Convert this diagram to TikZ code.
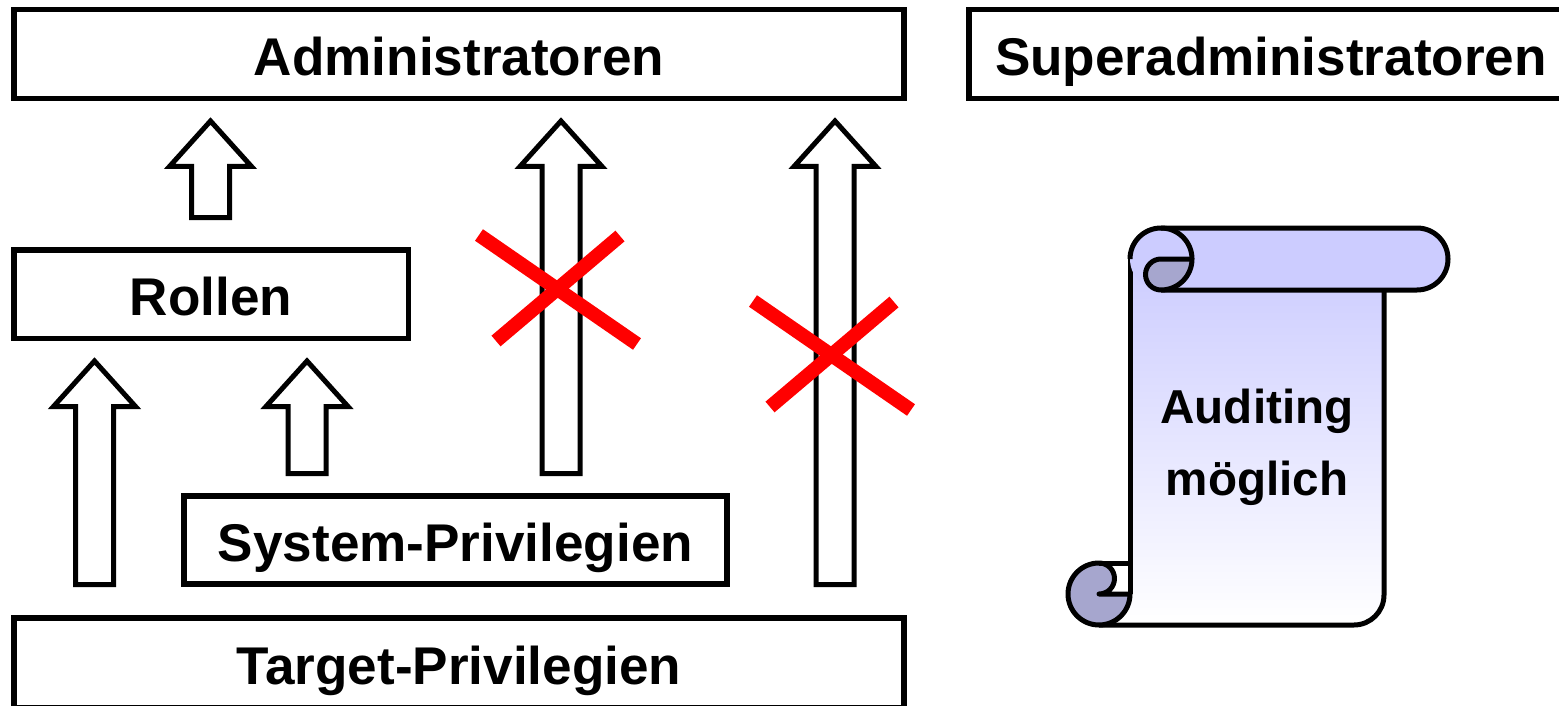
\documentclass[tikz,border=0pt]{standalone}
\usepackage{fontspec}
\setmainfont{Liberation Sans}
\definecolor{scrolllight}{RGB}{204,204,255}
\definecolor{scrolldark}{RGB}{166,166,206}

\tikzset{
  box/.style={draw, line width=2.75pt, inner sep=0pt,
    font=\fontsize{26.55}{30}\selectfont\bfseries,
    text height=21.25pt, text depth=0pt},
  blockarrow/.style={draw, line width=2.5pt, fill=white},
  cross/.style={color=red, line width=7pt},
  scroll/.style={line width=2.5pt, line join=round},
  scrolltext/.style={align=center, inner sep=0pt,
    font=\fontsize{23.8}{36}\selectfont\bfseries}
}

% block arrow pointing up: x, bottom, tip
\newcommand{\blockup}[3]{%
  \draw[blockarrow] ({#1-19},#2) -- ({#1-19},{#3+45.5}) -- ({#1-41},{#3+45.5})
    -- (#1,#3) -- ({#1+41},{#3+45.5}) -- ({#1+19},{#3+45.5}) -- ({#1+19},#2) -- cycle;
}
% red cross over an arrow
\newcommand{\crossout}[2]{%
  \draw[cross] ({#1-79},{#2-54}) -- ({#1+79},{#2+55});
  \draw[cross] ({#1-62},{#2+52}) -- ({#1+62},{#2-53});
}

\begin{document}
\begin{tikzpicture}[x=0.5pt, y=-0.5pt]
   \useasboundingbox (0,0) rectangle (1559,706);
   \clip (0,0) rectangle (1559,706);

   \node[box, minimum width=445pt, minimum height=44.5pt] (admin) at (459,54) {Administratoren};
   \node[box, minimum width=302pt, minimum height=44.5pt] (superadmin) at (1271,54) {Superadministratoren};
   \node[box, minimum width=197.25pt, minimum height=44.25pt] (rollen) at (211,294) {Rollen};
   \node[box, minimum width=271.5pt, minimum height=44pt] (syspriv) at (455.5,540) {System-Privilegien};
   \node[box, minimum width=445pt, minimum height=45pt] (target) at (459,663) {Target-Privilegien};

   \blockup{210.5}{217.5}{121}
   \blockup{561}{473.5}{121}
   \blockup{835}{584.5}{121}
   \blockup{94.5}{584.5}{361}
   \blockup{307}{473.5}{361}

   \crossout{558}{289}
   \crossout{832}{355}

   % scroll
   \shade[top color=scrolllight, bottom color=white] (1130,259) -- (1130,625) -- (1354,625)
      arc[start angle=90, end angle=0, radius=30] -- (1384,259) -- cycle;
   \draw[scroll] (1130,259) -- (1130,594);
   \draw[scroll] (1099,625) -- (1354,625) arc[start angle=90, end angle=0, radius=30] -- (1384,290);
   \filldraw[scroll, fill=scrolldark] (1099,563) arc[start angle=270, end angle=0, radius=31]
      -- (1099,594) arc[start angle=90, end angle=-90, radius=15.5] -- cycle;
   \draw[scroll] (1099,563) -- (1130,563);

   \fill[scrolllight] (1161,228) -- (1417,228) arc[start angle=270, end angle=450, radius=31]
      -- (1161,290) arc[start angle=90, end angle=270, radius=31] -- cycle;
   \draw[scroll] (1130,259) arc[start angle=180, end angle=270, radius=31] -- (1417,228)
      arc[start angle=270, end angle=450, radius=31] -- (1161,290);
   \draw[scroll] (1161,228) arc[start angle=270, end angle=360, radius=31];
   \filldraw[scroll, fill=scrolldark] (1161,259) -- (1192,259) arc[start angle=0, end angle=90, radius=31]
      arc[start angle=90, end angle=270, radius=15.5] -- cycle;

   \node[scrolltext] (audit) at (1257,447) {Auditing\\möglich};

 \end{tikzpicture}
\end{document}
